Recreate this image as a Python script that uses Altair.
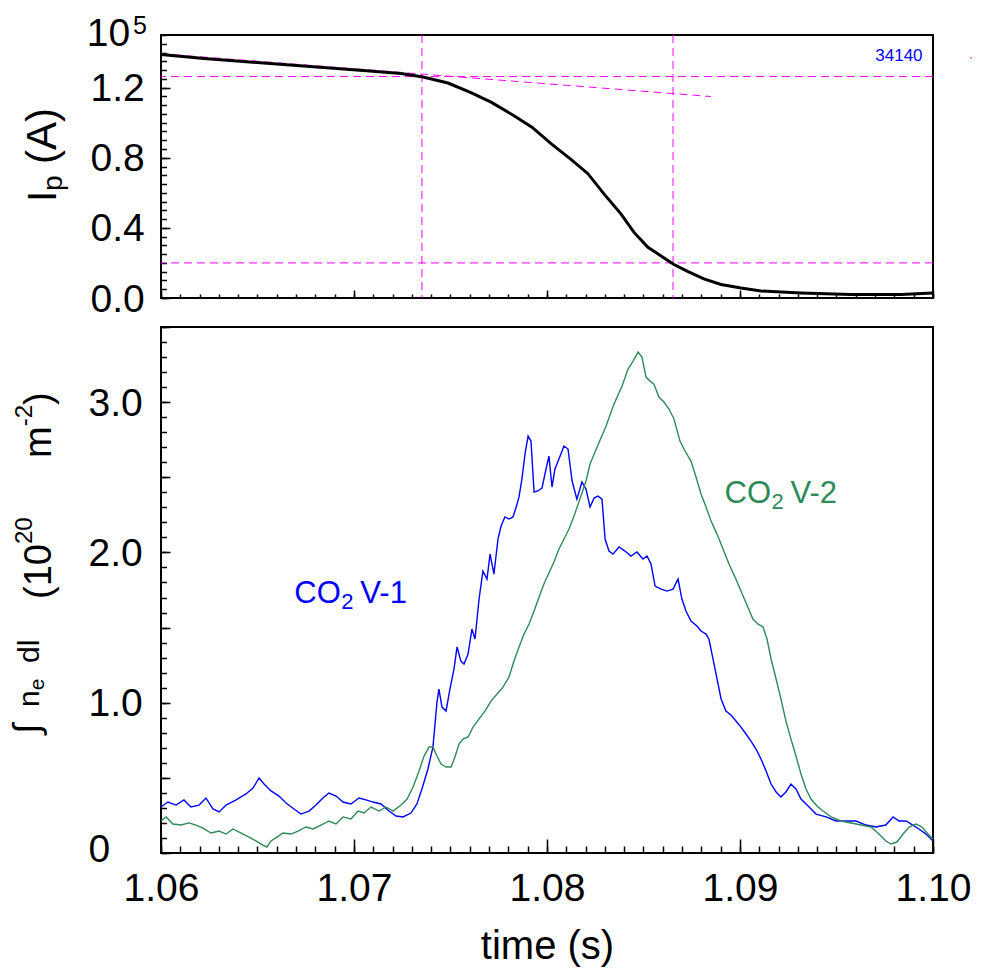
import altair as alt
import pandas as pd

FONT = "Liberation Sans"
MAGENTA = "#ff00ff"
BLUE = "#0000ff"
GREEN = "#2e8b57"

# ---------------- data ----------------
ip_time = [1.06000, 1.06223, 1.06497, 1.06772, 1.07047, 1.07244, 1.07358, 1.07487, 1.07606,
           1.07710, 1.07829, 1.07922, 1.08021, 1.08124, 1.08212, 1.08295, 1.08383, 1.08451,
           1.08523, 1.08591, 1.08658, 1.08731, 1.08813, 1.08902, 1.09005, 1.09109, 1.09316,
           1.09575, 1.09834, 1.10000]
ip_val = [1.389, 1.366, 1.343, 1.320, 1.297, 1.280, 1.260, 1.226, 1.171,
          1.117, 1.040, 0.974, 0.880, 0.791, 0.709, 0.594, 0.480, 0.374,
          0.289, 0.240, 0.191, 0.151, 0.109, 0.077, 0.057, 0.040, 0.029,
          0.020, 0.020, 0.029]

v1_time = [1.06000, 1.06036, 1.06078, 1.06119, 1.06155, 1.06197, 1.06233, 1.06269, 1.06301, 1.06337,
           1.06389, 1.06440, 1.06477, 1.06508, 1.06534, 1.06570, 1.06611, 1.06648, 1.06689, 1.06725,
           1.06767, 1.06803, 1.06839, 1.06870, 1.06907, 1.06943, 1.06984, 1.07026, 1.07062, 1.07098,
           1.07140, 1.07181, 1.07218, 1.07254, 1.07295, 1.07326, 1.07352, 1.07383, 1.07409, 1.07430,
           1.07440, 1.07456, 1.07477, 1.07497, 1.07518, 1.07534, 1.07554, 1.07570, 1.07591, 1.07611,
           1.07627, 1.07648, 1.07668, 1.07689, 1.07705, 1.07725, 1.07746, 1.07762, 1.07782, 1.07803,
           1.07824, 1.07845, 1.07855, 1.07870, 1.07886, 1.07902, 1.07917, 1.07933, 1.07953, 1.07974,
           1.07995, 1.08010, 1.08026, 1.08041, 1.08062, 1.08088, 1.08109, 1.08130, 1.08155, 1.08181,
           1.08202, 1.08223, 1.08244, 1.08264, 1.08285, 1.08301, 1.08321, 1.08342, 1.08373, 1.08404,
           1.08435, 1.08466, 1.08497, 1.08518, 1.08539, 1.08560, 1.08591, 1.08622, 1.08653, 1.08679,
           1.08699, 1.08720, 1.08746, 1.08777, 1.08798, 1.08824, 1.08839, 1.08860, 1.08881, 1.08902,
           1.08927, 1.08953, 1.08979, 1.09005, 1.09031, 1.09057, 1.09083, 1.09109, 1.09135, 1.09161,
           1.09187, 1.09212, 1.09238, 1.09264, 1.09290, 1.09316, 1.09358, 1.09394, 1.09446, 1.09497,
           1.09549, 1.09601, 1.09653, 1.09705, 1.09756, 1.09793, 1.09824, 1.09860, 1.09896, 1.09927,
           1.09964, 1.10000]
v1_val = [0.306, 0.339, 0.319, 0.353, 0.306, 0.319, 0.366, 0.293, 0.273, 0.319,
          0.353, 0.393, 0.432, 0.499, 0.459, 0.413, 0.379, 0.333, 0.293, 0.259,
          0.279, 0.319, 0.366, 0.399, 0.379, 0.339, 0.326, 0.366, 0.353, 0.339,
          0.326, 0.279, 0.246, 0.240, 0.266, 0.326, 0.426, 0.559, 0.705, 1.005,
          1.091, 0.971, 0.945, 1.091, 1.224, 1.371, 1.277, 1.257, 1.324, 1.490,
          1.424, 1.690, 1.876, 1.823, 1.989, 1.856, 2.089, 2.176, 2.236, 2.222,
          2.236, 2.322, 2.369, 2.488, 2.655, 2.774, 2.741, 2.402, 2.409, 2.428,
          2.555, 2.641, 2.435, 2.555, 2.621, 2.708, 2.688, 2.475, 2.355, 2.468,
          2.422, 2.302, 2.362, 2.375, 2.355, 2.089, 2.009, 1.989, 2.036, 2.009,
          1.976, 2.003, 1.956, 1.976, 1.923, 1.776, 1.756, 1.743, 1.756, 1.823,
          1.690, 1.610, 1.544, 1.510, 1.477, 1.457, 1.424, 1.291, 1.158, 1.025,
          0.945, 0.918, 0.878, 0.838, 0.792, 0.745, 0.692, 0.625, 0.546, 0.459,
          0.406, 0.373, 0.406, 0.459, 0.426, 0.359, 0.306, 0.259, 0.240, 0.213,
          0.213, 0.213, 0.186, 0.173, 0.186, 0.240, 0.213, 0.213, 0.186, 0.160,
          0.126, 0.080]

v2_time = [1.06000, 1.06026, 1.06062, 1.06104, 1.06145, 1.06181, 1.06218, 1.06259, 1.06301, 1.06337,
           1.06373, 1.06415, 1.06456, 1.06492, 1.06528, 1.06549, 1.06570, 1.06601, 1.06632, 1.06674,
           1.06710, 1.06751, 1.06788, 1.06829, 1.06870, 1.06907, 1.06943, 1.06984, 1.07021, 1.07052,
           1.07088, 1.07130, 1.07166, 1.07202, 1.07244, 1.07275, 1.07306, 1.07337, 1.07363, 1.07389,
           1.07409, 1.07430, 1.07451, 1.07477, 1.07503, 1.07523, 1.07544, 1.07565, 1.07591, 1.07617,
           1.07648, 1.07679, 1.07710, 1.07741, 1.07772, 1.07803, 1.07829, 1.07855, 1.07881, 1.07907,
           1.07933, 1.07959, 1.07984, 1.08010, 1.08036, 1.08062, 1.08088, 1.08114, 1.08140, 1.08176,
           1.08202, 1.08223, 1.08264, 1.08306, 1.08347, 1.08389, 1.08420, 1.08446, 1.08472, 1.08492,
           1.08513, 1.08534, 1.08554, 1.08580, 1.08606, 1.08632, 1.08658, 1.08689, 1.08715, 1.08746,
           1.08772, 1.08798, 1.08824, 1.08850, 1.08881, 1.08912, 1.08943, 1.08974, 1.09005, 1.09036,
           1.09067, 1.09093, 1.09119, 1.09140, 1.09161, 1.09187, 1.09212, 1.09238, 1.09264, 1.09290,
           1.09316, 1.09342, 1.09368, 1.09399, 1.09430, 1.09472, 1.09523, 1.09575, 1.09627, 1.09679,
           1.09720, 1.09756, 1.09782, 1.09813, 1.09845, 1.09876, 1.09912, 1.09943, 1.09974, 1.10000]
v2_val = [0.213, 0.240, 0.193, 0.186, 0.200, 0.186, 0.166, 0.133, 0.146, 0.126,
          0.160, 0.133, 0.106, 0.080, 0.053, 0.040, 0.080, 0.106, 0.133, 0.126,
          0.146, 0.173, 0.160, 0.186, 0.213, 0.193, 0.240, 0.226, 0.279, 0.266,
          0.306, 0.279, 0.306, 0.279, 0.319, 0.359, 0.439, 0.546, 0.645, 0.705,
          0.705, 0.645, 0.592, 0.572, 0.572, 0.639, 0.725, 0.758, 0.772, 0.838,
          0.892, 0.945, 1.011, 1.058, 1.104, 1.171, 1.277, 1.371, 1.457, 1.524,
          1.610, 1.703, 1.790, 1.863, 1.936, 2.023, 2.089, 2.156, 2.242, 2.375,
          2.475, 2.588, 2.715, 2.841, 2.987, 3.107, 3.220, 3.273, 3.333, 3.300,
          3.167, 3.140, 3.120, 3.034, 3.001, 2.954, 2.888, 2.741, 2.675, 2.608,
          2.502, 2.389, 2.302, 2.209, 2.122, 2.023, 1.923, 1.836, 1.743, 1.650,
          1.557, 1.524, 1.504, 1.424, 1.291, 1.158, 1.025, 0.878, 0.758, 0.645,
          0.526, 0.426, 0.359, 0.313, 0.279, 0.240, 0.213, 0.200, 0.186, 0.173,
          0.126, 0.080, 0.060, 0.073, 0.126, 0.173, 0.193, 0.173, 0.126, 0.093]

marker_times = [1.07352, 1.08653]          # vertical dashed markers
marker_levels = [1.263, 0.20]              # horizontal dashed markers
trend_time = [1.0600, 1.0885]              # dashed extrapolation of the flat-top decay
trend_val = [1.393, 1.149]
shot_number = "34140"

# axis tick values / labels
x_labels = [1.06, 1.07, 1.08, 1.09, 1.10]
x_major = [1.06, 1.07, 1.08, 1.09, 1.10]
x_minor = [round(1.06 + 0.001 * i, 3) for i in range(41)]
ip_labels = [0.0, 0.4, 0.8, 1.2]
ip_major = [0.0, 0.4, 0.8, 1.2]
ip_minor = [round(0.05 * i, 2) for i in range(31)]
ne_labels = [1, 2, 3]
ne_zero_label = [0]
ne_major = [0, 0.5, 1, 1.5, 2, 2.5, 3, 3.5]
ne_minor = [round(0.1 * i, 1) for i in range(36)]

# ---------------- layout constants ----------------
W, H1, H2 = 772, 263, 526
XS = alt.Scale(domain=[1.06, 1.10], nice=False, zero=False)
Y1S = alt.Scale(domain=[0, 1.5], nice=False, zero=False)
Y2S = alt.Scale(domain=[0, 3.5], nice=False, zero=False)
ONE = pd.DataFrame({"k": [0]})

ADV = {"0": .556, "1": .556, "2": .556, "5": .556, " ": .278, "(": .333, ")": .333,
       "-": .333, "I": .278, "p": .556, "A": .667, "n": .556, "e": .556, "d": .556,
       "l": .222, "m": .833, "∫": .6}


def adv(s, size):
    return sum(ADV.get(c, .556) for c in s) * size


def tick_axis(orient, values, size):
    return alt.Axis(orient=orient, values=values, tickSize=size, offset=-size, tickWidth=1.5,
                    tickColor="black", labels=False, domain=False, grid=False, title=None)


def ylabel_axis(values, padding, offset, fmt=None, expr=None):
    kw = dict(orient="left", values=values, labelAlign="left", labelPadding=padding,
              labelOffset=offset, ticks=False, tickSize=0, domain=False, grid=False, title=None,
              labelFont=FONT, labelFontSize=39, labelColor="black")
    if fmt:
        kw["format"] = fmt
    if expr:
        kw["labelExpr"] = expr
    return alt.Axis(**kw)


def piece(text, x, y, size, color="black", angle=0, align="left"):
    return alt.Chart(ONE).mark_text(text=text, font=FONT, fontSize=size, color=color, angle=angle,
                                    align=align, baseline="alphabetic").encode(
        x=alt.value(x), y=alt.value(y))


def rotated(pieces, x_base, y_start):
    """Compose a vertical (reading upward) title from pieces of different sizes.
    Each piece: (text, font size, baseline shift, explicit start or None)."""
    out, y = [], y_start
    for text, size, shift, start in pieces:
        if start is not None:
            y = start
        out.append(piece(text, x_base + shift, y, size, angle=270))
        y -= adv(text, size)
    return out


def anchor(x, y):
    return alt.Chart(ONE).mark_rule(opacity=0).encode(
        x=alt.value(x), x2=alt.value(x + 1), y=alt.value(y), y2=alt.value(y + 1))


def data_text(text, t, v, yscale, size, color, dx=0, dy=0, align="left"):
    return alt.Chart(pd.DataFrame({"t": [t], "v": [v]})).mark_text(
        text=text, font=FONT, fontSize=size, color=color, align=align, baseline="alphabetic",
        dx=dx, dy=dy).encode(x=alt.X("t:Q", scale=XS, axis=None),
                             y=alt.Y("v:Q", scale=yscale, axis=None))


# ---------------- top panel: plasma current ----------------
ip_df = pd.DataFrame({"t": ip_time, "ip": ip_val})
ip_line = alt.Chart(ip_df).mark_line(color="black", strokeWidth=3).encode(
    x=alt.X("t:Q", scale=XS, axis=tick_axis("bottom", x_major, 8)),
    y=alt.Y("ip:Q", scale=Y1S, axis=ylabel_axis(ip_labels, 71, 1, fmt=".1f")))
ip_t1 = alt.Chart(ip_df).mark_line(opacity=0).encode(
    x=alt.X("t:Q", scale=XS, axis=tick_axis("bottom", x_minor, 4)),
    y=alt.Y("ip:Q", scale=Y1S, axis=tick_axis("left", ip_major, 9)))
ip_t2 = alt.Chart(ip_df).mark_line(opacity=0).encode(
    x=alt.X("t:Q", scale=XS, axis=None),
    y=alt.Y("ip:Q", scale=Y1S, axis=tick_axis("left", ip_minor, 5.5)))

vrules = alt.Chart(pd.DataFrame({"t": marker_times})).mark_rule(
    color=MAGENTA, strokeWidth=1, strokeDash=[8, 5]).encode(x=alt.X("t:Q", scale=XS, axis=None))
hrules = alt.Chart(pd.DataFrame({"v": marker_levels})).mark_rule(
    color=MAGENTA, strokeWidth=1, strokeDash=[8, 5]).encode(y=alt.Y("v:Q", scale=Y1S, axis=None))
trend = alt.Chart(pd.DataFrame({"t": trend_time, "v": trend_val})).mark_line(
    color=MAGENTA, strokeWidth=1, strokeDash=[8, 5]).encode(
    x=alt.X("t:Q", scale=XS, axis=None), y=alt.Y("v:Q", scale=Y1S, axis=None))
shot = data_text(shot_number, 1.09946, 1.350, Y1S, 17, BLUE, align="right")
dot = alt.Chart(pd.DataFrame({"t": [1.10197], "v": [1.371]})).mark_point(
    filled=True, size=3, color=MAGENTA, opacity=0.8).encode(
    x=alt.X("t:Q", scale=XS, axis=None), y=alt.Y("v:Q", scale=Y1S, axis=None))

top_layers = [ip_t2, ip_t1, vrules, hrules, trend, ip_line, shot, dot,
              piece("10", -74.3, 11, 39), piece("5", -28, -1, 25), anchor(-155, -30)]
top_layers += rotated([("I", 40, 0, 167), ("p", 28, 6, None), ("(A)", 42, 0, 129)], -105, 167)
top = alt.layer(*top_layers).resolve_axis(x="independent", y="independent").properties(
    width=W, height=H1)

# ---------------- bottom panel: line-integrated density ----------------
d1 = pd.DataFrame({"t": v1_time, "n": v1_val})
d2 = pd.DataFrame({"t": v2_time, "n": v2_val})
blue = alt.Chart(d1).mark_line(color=BLUE, strokeWidth=1.4).encode(
    x=alt.X("t:Q", scale=XS, axis=alt.Axis(
        orient="bottom", values=x_labels, format=".2f", labelFlush=False, labelPadding=16,
        ticks=False, tickSize=0, domain=False, grid=False, labelFont=FONT, labelFontSize=39,
        labelColor="black", title="time (s)", titleFont=FONT, titleFontSize=40,
        titleFontWeight="normal", titleColor="black", titlePadding=18)),
    y=alt.Y("n:Q", scale=Y2S, axis=ylabel_axis(ne_labels, 73, 1, fmt=".1f")))
green = alt.Chart(d2).mark_line(color=GREEN, strokeWidth=1.4).encode(
    x=alt.X("t:Q", scale=XS, axis=tick_axis("bottom", x_major, 14)),
    y=alt.Y("n:Q", scale=Y2S, axis=tick_axis("left", ne_major, 9)))
ne_t = alt.Chart(d2).mark_line(opacity=0).encode(
    x=alt.X("t:Q", scale=XS, axis=tick_axis("bottom", x_minor, 7)),
    y=alt.Y("n:Q", scale=Y2S, axis=tick_axis("left", ne_minor, 5.5)))
ne_zero = alt.Chart(d2).mark_line(opacity=0).encode(
    x=alt.X("t:Q", scale=XS, axis=None),
    y=alt.Y("n:Q", scale=Y2S, axis=ylabel_axis(ne_zero_label, 73, -4, fmt="d")))

lab1 = [data_text("CO", 1.06691, 1.663, Y2S, 31, BLUE),
        data_text("2", 1.06691, 1.663, Y2S, 22, BLUE, dx=47, dy=6),
        data_text("V-1", 1.06691, 1.663, Y2S, 31, BLUE, dx=66)]
lab2 = [data_text("CO", 1.08920, 2.332, Y2S, 31, GREEN),
        data_text("2", 1.08920, 2.332, Y2S, 22, GREEN, dx=47, dy=6),
        data_text("V-2", 1.08920, 2.332, Y2S, 31, GREEN, dx=66)]

bottom_layers = [ne_t, ne_zero, blue, green] + lab1 + lab2 + [anchor(-155, 0)]
# "∫ne dl" (smaller) and "(10^20 m^-2)" (larger) parts of the vertical title
bottom_layers += rotated([("∫", 37, 0, 407), ("n", 30, 0, 380), ("e", 21, 5, None),
                          ("dl", 30, 0, 336)], -122, 405)
bottom_layers += rotated([("(10", 38, 0, 272), ("20", 24, -19, None), ("m", 38, 0, 131),
                          ("-2", 24, -19, None), (")", 38, 0, None)], -110, 272)
bottom = alt.layer(*bottom_layers).resolve_axis(x="independent", y="independent").properties(
    width=W, height=H2)

chart = alt.vconcat(top, bottom, spacing=5).properties(
    padding={"left": 5, "top": 4, "right": 0, "bottom": 0}, background="white"
).configure_view(stroke="black", strokeWidth=2)

chart.save("out.html", embed_options={"renderer": "svg", "actions": False})
